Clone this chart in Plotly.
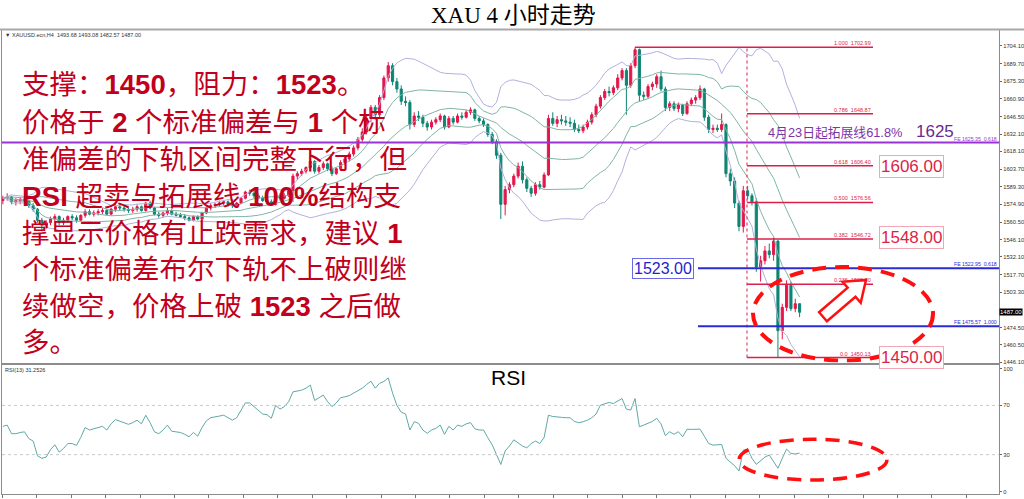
import numpy as np
import pandas as pd
import plotly.graph_objects as go

# ---------------- data ----------------
open_ = [1578,1580,1581,1577,1578,1579,1578,1574,1571,1562,
         1558,1560,1563,1565,1560,1562,1565,1564,1562,1566,
         1569,1567,1568,1569,1570,1567,1571,1573,1572,1571,
         1570,1571,1573,1570,1576,1572,1567,1566,1568,1570,
         1567,1566,1565,1564,1562,1565,1563,1568,1572,1574,
         1575,1576,1577,1575,1574,1576,1580,1585,1584,1582,
         1580,1578,1577,1575,1582,1580,1582,1586,1598,1600,
         1602,1605,1610,1602,1605,1608,1604,1600,1604,1609,
         1612,1616,1621,1628,1634,1645,1654,1648,1662,1678,
         1688,1675,1669,1659,1658,1640,1647,1646,1641,1638,
         1642,1644,1647,1638,1645,1642,1647,1646,1650,1652,
         1645,1643,1640,1632,1626,1615,1575,1587,1591,1598,
         1606,1595,1588,1584,1591,1589,1599,1645,1641,1644,
         1643,1642,1641,1636,1635,1638,1642,1648,1655,1662,
         1667,1666,1670,1678,1684,1672,1688,1701,1664,1663,
         1671,1673,1679,1669,1654,1657,1653,1656,1649,1657,
         1660,1662,1669,1646,1636,1637,1636,1640,1600,1594,
         1576,1557,1586,1582,1577,1524,1529,1537,1534,1545,
         1472,1491,1509,1490,1494]
high_ = [1582,1584,1582,1580,1581,1582,1579,1576,1572,1564,
         1562,1565,1567,1566,1564,1566,1567,1566,1567,1571,
         1571,1570,1571,1572,1571,1572,1575,1575,1574,1573,
         1573,1575,1574,1577,1578,1573,1569,1569,1572,1571,
         1569,1568,1567,1565,1566,1566,1569,1573,1576,1576,
         1578,1578,1578,1577,1577,1581,1586,1587,1586,1584,
         1582,1580,1579,1583,1584,1584,1587,1600,1602,1604,
         1606,1612,1611,1607,1610,1609,1606,1605,1611,1614,
         1618,1623,1630,1637,1647,1656,1656,1664,1680,1691,
         1690,1678,1672,1663,1660,1650,1651,1648,1643,1644,
         1646,1649,1648,1647,1647,1649,1650,1652,1654,1653,
         1647,1645,1641,1634,1628,1617,1590,1593,1600,1609,
         1610,1597,1590,1593,1594,1601,1648,1650,1647,1648,
         1647,1646,1644,1640,1640,1644,1650,1657,1664,1669,
         1671,1672,1681,1686,1686,1690,1703,1702,1667,1673,
         1675,1681,1684,1671,1659,1659,1658,1657,1659,1662,
         1664,1672,1670,1648,1640,1640,1649,1641,1604,1597,
         1578,1590,1590,1584,1580,1533,1541,1543,1548,1546,
         1494,1513,1512,1498,1494]
low_ = [1575,1578,1575,1574,1575,1576,1572,1569,1560,1553,
        1555,1558,1561,1558,1558,1560,1562,1560,1561,1564,
        1566,1565,1566,1567,1566,1566,1569,1570,1569,1568,
        1568,1569,1569,1569,1571,1566,1564,1564,1566,1566,
        1565,1564,1562,1561,1561,1562,1562,1567,1570,1572,
        1573,1574,1573,1572,1572,1575,1579,1582,1580,1579,
        1577,1576,1574,1574,1578,1579,1581,1577,1595,1598,
        1600,1603,1600,1600,1603,1602,1598,1599,1603,1607,
        1610,1614,1619,1626,1632,1642,1644,1646,1660,1675,
        1672,1666,1656,1655,1636,1638,1643,1638,1635,1636,
        1640,1642,1636,1637,1640,1641,1644,1645,1648,1643,
        1641,1638,1630,1624,1612,1563,1566,1584,1589,1596,
        1592,1585,1581,1582,1587,1588,1598,1639,1638,1640,
        1639,1638,1634,1633,1633,1636,1640,1646,1653,1660,
        1663,1664,1668,1676,1648,1670,1686,1659,1660,1661,
        1668,1670,1667,1651,1651,1651,1650,1647,1648,1655,
        1657,1660,1643,1633,1633,1634,1634,1597,1590,1572,
        1553,1552,1579,1574,1520,1512,1526,1531,1529,1450,
        1465,1488,1488,1487,1483]
close_ = [1580,1581,1577,1578,1579,1578,1574,1571,1562,1558,
          1560,1563,1565,1560,1562,1565,1564,1562,1566,1569,
          1567,1568,1569,1570,1567,1571,1573,1572,1571,1570,
          1571,1573,1570,1576,1572,1567,1566,1568,1570,1567,
          1566,1565,1564,1562,1565,1563,1568,1572,1574,1575,
          1576,1577,1575,1574,1576,1580,1585,1584,1582,1580,
          1578,1577,1575,1582,1580,1582,1586,1598,1600,1602,
          1605,1610,1602,1605,1608,1604,1600,1604,1609,1612,
          1616,1621,1628,1634,1645,1654,1648,1662,1678,1688,
          1675,1669,1659,1658,1640,1647,1646,1641,1638,1642,
          1644,1647,1638,1645,1642,1647,1646,1650,1652,1645,
          1643,1640,1632,1626,1615,1575,1587,1591,1598,1606,
          1595,1588,1584,1591,1589,1599,1645,1641,1644,1643,
          1642,1641,1636,1635,1638,1642,1648,1655,1662,1667,
          1666,1670,1678,1684,1672,1688,1701,1664,1663,1671,
          1673,1679,1669,1654,1657,1653,1656,1649,1657,1660,
          1662,1669,1646,1636,1637,1636,1640,1600,1594,1576,
          1557,1586,1582,1577,1524,1529,1537,1534,1545,1472,
          1491,1509,1490,1494,1487]
rsi_ = [53,54,47,47,48,48.5,43,41,29,27,
        28,34,38,32,35,39,39,37.5,44,52,
        50,51,52,53,50,55,58.5,57,56,54.6,
        56,58,55,62,56,48.6,47,50,54,49,
        48.5,48,46.5,44.5,48,45,52,57.5,60,60.5,
        61.5,62,60,58,60,66,72,72,69,66.5,
        63,62.5,59.5,70,67,69,73,81,81.5,82.4,
        84,86.5,74,76,78.4,73,69,72,76.3,77,
        78,80,82,84,87,89.7,84,88,89.5,92.4,
        80,70,64.5,63,50,56.8,55.4,50,47.3,50,
        51.4,54,46.5,53,50,54,53,55,56,51,
        50,50,43.7,38,30,22,33,37,42,39.5,
        37,35.5,39,41,39,44,62,61,60.4,60.3,
        60,59.9,57,55.9,56.7,58,60,63,70.2,71,
        72.4,71.5,73.5,75.6,67,66.2,75.6,52.7,54,55.4,
        57,59.5,55,45.4,48.6,46.5,48.6,44.5,50.7,50.5,
        50.5,50.7,45,39.1,37.7,38,38.3,27,24.3,21,
        16.7,33.7,34.5,27,22.1,25,28,29.7,24,18.9,
        27,34.5,31,30.5,31.25]

fib_ratios = ["1.000", "0.786", "0.618", "0.500", "0.382", "0.236", "0.0"]
fib_levels = [1702.99, 1648.87, 1606.40, 1576.56, 1546.72, 1509.80, 1450.13]
fe_levels = [1625.35, 1522.95, 1475.57]
fe_labels = ["FE 1625.35  0.618", "FE 1522.95  0.618", "FE 1475.57  1.000"]
key_boxes = ["1606.00", "1548.00", "1450.00"]
key_box_levels = [1606.00, 1548.00, 1450.00]
resistance_label = "1523.00"
resistance_level = 1523.00
price_ticks = [1704.10, 1689.70, 1675.30, 1660.90, 1646.50, 1632.10, 1618.10, 1603.70,
               1589.30, 1574.90, 1560.50, 1546.10, 1532.10, 1517.70, 1503.30, 1474.50,
               1460.50, 1446.10]
rsi_ticks = [0, 30, 70, 100]
rsi_levels = [30, 70]
text_lines = [
    "支撑：<b>1450</b>，阻力：<b>1523</b>。",
    "价格于 <b>2</b> 个标准偏差与 <b>1</b> 个标",
    "准偏差的下轨区间完整下行，但",
    "<b>RSI</b> 超卖与拓展线 <b>100%</b>结构支",
    "撑显示价格有止跌需求，建议 <b>1</b>",
    "个标准偏差布尔下轨不上破则继",
    "续做空，价格上破 <b>1523</b> 之后做",
    "多。",
]

# ---------------- geometry helpers ----------------
W, H = 1024, 499
ML, MR, MT, MB = 2, 25, 30, 3
PW, PH = W - ML - MR, H - MT - MB
MAIN_TOP, MAIN_BOT = 30, 364
RSI_TOP, RSI_BOT = 366, 496
DX = 4.33
XR = [-0.2, -0.2 + PW / DX]
YR = [1446.0, 1717.1]
RR = [-2.0, 103.2]

def fx(px):
    return XR[0] + (px - ML) * (XR[1] - XR[0]) / PW

def fp(py):
    return YR[1] - (py - MAIN_TOP) * (YR[1] - YR[0]) / (MAIN_BOT - MAIN_TOP)

def fr(py):
    return RR[1] - (py - RSI_TOP) * (RR[1] - RR[0]) / (RSI_BOT - RSI_TOP)

def pxp(px):
    return (px - ML) / PW

def pyp(py):
    return (H - MB - py) / PH

RED = "#e3174b"
TEAL = "#0f8574"
FIB = "#dc1f48"
TXT = "#c2001c"
PURPLE = "#9a33d6"
BLUE = "#2a2ad8"

x = list(range(len(close_)))
s = pd.Series(close_, dtype=float)
mid = s.rolling(20, min_periods=1).mean()
sd = s.rolling(20, min_periods=1).std(ddof=0)

fig = go.Figure()
band_specs = [(2, "#b0b0de"), (1, "#7fb5a6"), (0, "#7fb5a6"), (-1, "#7fb5a6"), (-2, "#b0b0de")]
for k, col in band_specs:
    fig.add_trace(go.Scatter(x=x, y=mid + k * sd, mode="lines", line=dict(color=col, width=1),
                             hoverinfo="skip", showlegend=False, xaxis="x", yaxis="y"))

fig.add_trace(go.Candlestick(
    x=x, open=open_, high=high_, low=low_, close=close_,
    increasing=dict(line=dict(color=RED, width=1), fillcolor=RED),
    decreasing=dict(line=dict(color=TEAL, width=1), fillcolor=TEAL),
    whiskerwidth=0, showlegend=False, hoverinfo="skip", xaxis="x", yaxis="y"))

fig.add_trace(go.Scatter(x=x, y=rsi_, mode="lines", line=dict(color="#5ea9a6", width=1),
                         hoverinfo="skip", showlegend=False, xaxis="x2", yaxis="y2"))

shapes = []
annotations = []

# Fibonacci retracement lines
fib_x_end = fx(873)
for r, lv in zip(fib_ratios, fib_levels):
    x0 = 146 if r == "1.000" else fx(747)
    shapes.append(dict(type="line", xref="x", yref="y", x0=x0, x1=fib_x_end, y0=lv, y1=lv,
                       line=dict(color=FIB, width=1.5)))
    annotations.append(dict(xref="x", yref="y", x=fib_x_end, y=lv, xanchor="right", yanchor="bottom",
                            text=f"{r}  {lv:.2f}", showarrow=False, yshift=-1,
                            font=dict(size=5.5, color=FIB)))
shapes.append(dict(type="line", xref="x", yref="y", x0=fx(747), x1=fx(747),
                   y0=fib_levels[-1], y1=fib_levels[0], line=dict(color=FIB, width=1, dash="dot")))

# FE lines
fe_cols = [PURPLE, BLUE, BLUE]
for lv, lab, col in zip(fe_levels, fe_labels, fe_cols):
    x0 = XR[0] if col == PURPLE else fx(698)
    shapes.append(dict(type="line", xref="x", yref="y", x0=x0, x1=XR[1], y0=lv, y1=lv,
                       line=dict(color=col, width=2)))
    annotations.append(dict(xref="x", yref="y", x=XR[1], y=lv, xanchor="right", yanchor="bottom",
                            text=lab, showarrow=False, yshift=-1,
                            font=dict(size=5.2, color=col)))

# RSI level lines
for lv in rsi_levels:
    shapes.append(dict(type="line", xref="x2", yref="y2", x0=XR[0], x1=XR[1], y0=lv, y1=lv,
                       line=dict(color="#c8c8c8", width=1, dash="dot")))

# red dashed ellipses
shapes.append(dict(type="circle", xref="x", yref="y", x0=fx(753), x1=fx(933), y0=fp(362), y1=fp(268),
                   line=dict(color="#ff1010", width=4, dash="14px,9px")))
shapes.append(dict(type="circle", xref="x2", yref="y2", x0=fx(739), x1=fx(887), y0=fr(482), y1=fr(441),
                   line=dict(color="#ff1010", width=3.5, dash="14px,9px")))

# hollow arrow
T = np.array([823.0, 318.0]); Hd = np.array([866.0, 281.0])
u = (Hd - T) / np.linalg.norm(Hd - T); n = np.array([-u[1], u[0]])
hb = Hd - u * 19
pts = [T + n * 6, hb + n * 6, hb + n * 14, Hd, hb - n * 14, hb - n * 6, T - n * 6]
path = "M " + " L ".join(f"{pxp(p[0]):.5f},{pyp(p[1]):.5f}" for p in pts) + " Z"
shapes.append(dict(type="path", xref="paper", yref="paper", path=path,
                   line=dict(color="#ff1010", width=2.5), fillcolor="white"))

# top frame bar
shapes.append(dict(type="line", xref="paper", yref="paper", x0=-0.01, x1=1.03, y0=pyp(29.5), y1=pyp(29.5),
                   line=dict(color="#a8a8a8", width=2)))

# boxed key levels
for lab, lv in zip(key_boxes, key_box_levels):
    annotations.append(dict(xref="x", yref="y", x=fx(879), y=lv, xanchor="left", yanchor="middle",
                            text=lab, showarrow=False, bordercolor="#f2a6b4", borderwidth=1, borderpad=1,
                            bgcolor="white", font=dict(size=17, color=FIB,
                                                        family="Liberation Sans, Arial")))
annotations.append(dict(xref="x", yref="y", x=fx(632), y=resistance_level, xanchor="left", yanchor="middle",
                        text=resistance_label, showarrow=False, bordercolor="#6a6ae6", borderwidth=1,
                        borderpad=1, bgcolor="white",
                        font=dict(size=16, color="#1f1fd0", family="Liberation Sans, Arial")))

# purple FE labels
annotations.append(dict(xref="paper", yref="paper", x=pxp(766), y=pyp(133), xanchor="left", yanchor="middle",
                        text="4月23日起拓展线61.8%", showarrow=False,
                        font=dict(size=12.8, color="#7a35a8")))
annotations.append(dict(xref="paper", yref="paper", x=pxp(914), y=pyp(132), xanchor="left", yanchor="middle",
                        text="1625", showarrow=False,
                        font=dict(size=17, color="#6a2a90", family="Liberation Sans, Arial")))

# current price tag
annotations.append(dict(xref="paper", yref="y", x=1.0, y=close_[-1], xanchor="left", yanchor="middle",
                        text=f"{close_[-1]:.2f}", showarrow=False, bgcolor="black", borderpad=0,
                        font=dict(size=6, color="white")))

# big commentary text
line_y = [85, 123, 160, 197, 234, 271, 308, 344]
for t, yy in zip(text_lines, line_y):
    annotations.append(dict(xref="paper", yref="paper", x=pxp(20), y=pyp(yy), xanchor="left",
                            yanchor="middle", text=t, showarrow=False,
                            font=dict(size=27.5, color=TXT,
                                      family="Liberation Sans, Arial, Noto Sans CJK SC")))

# title / headers
annotations.append(dict(xref="paper", yref="paper", x=pxp(513), y=pyp(15), xanchor="center", yanchor="middle",
                        text="XAU 4 小时走势", showarrow=False,
                        font=dict(size=23, color="black", family="Liberation Serif, Noto Sans CJK SC")))
annotations.append(dict(xref="paper", yref="paper", x=pxp(3), y=pyp(35.5), xanchor="left", yanchor="middle",
                        text="▼ XAUUSD.ecn,H4  1493.68 1493.08 1482.57 1487.00", showarrow=False,
                        font=dict(size=5.5, color="#333333")))
annotations.append(dict(xref="paper", yref="paper", x=pxp(3), y=pyp(371), xanchor="left", yanchor="middle",
                        text="RSI(13) 31.2526", showarrow=False, font=dict(size=5.5, color="#333333")))
annotations.append(dict(xref="paper", yref="paper", x=pxp(508), y=pyp(379), xanchor="center", yanchor="middle",
                        text="RSI", showarrow=False,
                        font=dict(size=21, color="black", family="Liberation Sans, Arial")))

axis_line = dict(showline=True, mirror=True, linecolor="#8c8c8c", linewidth=1,
                 showgrid=False, zeroline=False)
fig.update_layout(
    width=W, height=H, margin=dict(l=ML, r=MR, t=MT, b=MB),
    paper_bgcolor="white", plot_bgcolor="white",
    font=dict(family="Liberation Sans, Arial, Noto Sans CJK SC", color="#333333"),
    xaxis=dict(domain=[0, 1], range=XR, anchor="y", showticklabels=False, ticks="",
               rangeslider=dict(visible=False), **axis_line),
    yaxis=dict(domain=[(H - MB - MAIN_BOT) / PH, 1], range=YR, anchor="x", side="right",
               tickvals=price_ticks, ticktext=[f"{v:.2f}" for v in price_ticks],
               ticks="outside", ticklen=2, tickcolor="#666666", automargin=False,
               tickfont=dict(size=5.8, color="#333333"), **axis_line),
    xaxis2=dict(domain=[0, 1], range=XR, anchor="y2", showticklabels=False, ticks="outside",
                tick0=7.85, dtick=7.95, ticklen=3, tickcolor="#777777", **axis_line),
    yaxis2=dict(domain=[0, (H - MB - RSI_TOP) / PH], range=RR, anchor="x2", side="right",
                tickvals=rsi_ticks, ticks="outside", ticklen=2, tickcolor="#666666", automargin=False,
                tickfont=dict(size=5.8, color="#333333"), **axis_line),
    shapes=shapes, annotations=annotations, hovermode=False,
)

fig.write_html("out.html", config={"displayModeBar": False},
               post_script="document.body.style.margin='0';document.body.style.overflow='hidden';")
